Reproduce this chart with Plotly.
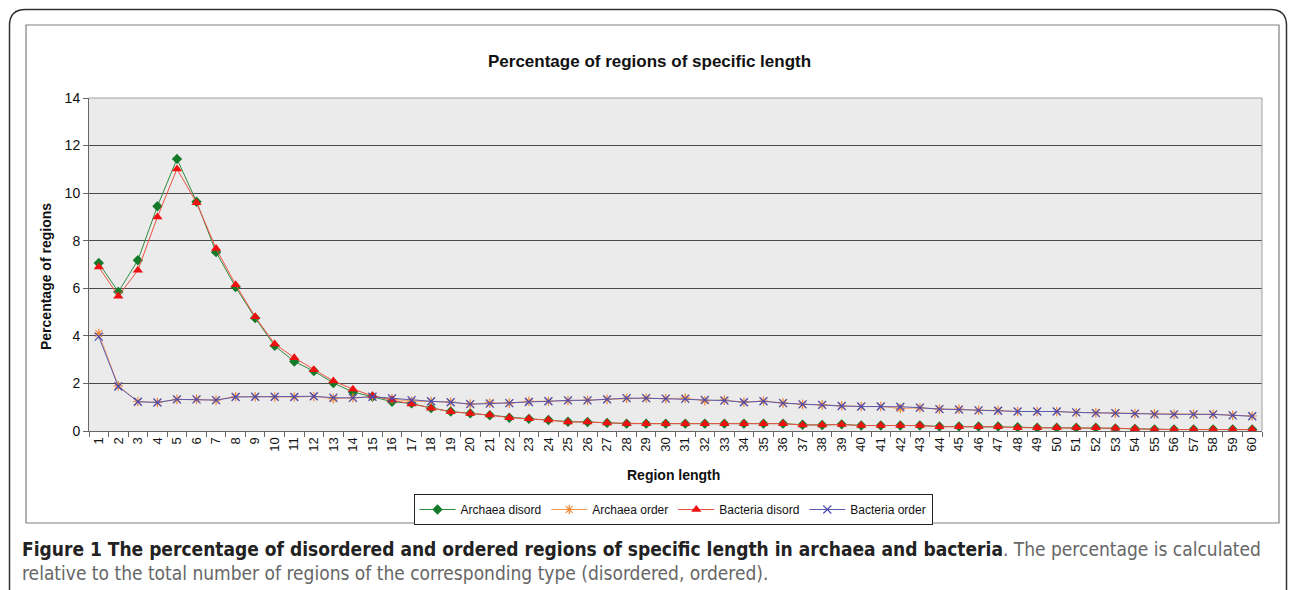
import plotly.graph_objects as go

W, H = 1292, 590

region_length = [str(i) for i in range(1, 61)]

archaea_disord = [7.06, 5.85, 7.18, 9.45, 11.44, 9.64, 7.52, 6.05, 4.75, 3.58,
                  2.92, 2.52, 2.02, 1.64, 1.44, 1.23, 1.16, 0.96, 0.82, 0.74,
                  0.66, 0.56, 0.51, 0.46, 0.39, 0.38, 0.34, 0.31, 0.31, 0.31,
                  0.31, 0.31, 0.31, 0.31, 0.31, 0.31, 0.26, 0.25, 0.28, 0.23,
                  0.23, 0.23, 0.23, 0.19, 0.19, 0.19, 0.19, 0.16, 0.14, 0.14,
                  0.14, 0.14, 0.11, 0.09, 0.06, 0.06, 0.06, 0.06, 0.06, 0.06]

archaea_order = [4.10, 1.90, 1.24, 1.20, 1.33, 1.33, 1.30, 1.45, 1.44, 1.43,
                 1.43, 1.45, 1.36, 1.40, 1.45, 1.35, 1.25, 1.24, 1.21, 1.13,
                 1.18, 1.17, 1.25, 1.25, 1.28, 1.29, 1.33, 1.37, 1.38, 1.36,
                 1.38, 1.27, 1.30, 1.21, 1.26, 1.18, 1.12, 1.10, 1.06, 1.03,
                 1.03, 0.95, 0.97, 0.92, 0.92, 0.87, 0.87, 0.82, 0.82, 0.82,
                 0.78, 0.77, 0.75, 0.73, 0.72, 0.70, 0.70, 0.70, 0.66, 0.63]

bacteria_disord = [6.90, 5.67, 6.76, 9.00, 11.02, 9.60, 7.67, 6.15, 4.80, 3.66,
                   3.08, 2.58, 2.10, 1.76, 1.48, 1.30, 1.13, 0.96, 0.81, 0.74,
                   0.67, 0.56, 0.52, 0.46, 0.38, 0.38, 0.34, 0.31, 0.31, 0.31,
                   0.31, 0.31, 0.31, 0.31, 0.31, 0.31, 0.25, 0.25, 0.27, 0.23,
                   0.23, 0.23, 0.23, 0.18, 0.18, 0.18, 0.18, 0.14, 0.14, 0.14,
                   0.14, 0.14, 0.12, 0.09, 0.06, 0.06, 0.06, 0.06, 0.06, 0.06]

bacteria_order = [3.97, 1.87, 1.23, 1.20, 1.33, 1.33, 1.30, 1.43, 1.44, 1.44,
                  1.43, 1.46, 1.40, 1.39, 1.44, 1.37, 1.30, 1.25, 1.21, 1.13,
                  1.15, 1.17, 1.22, 1.25, 1.29, 1.29, 1.33, 1.38, 1.38, 1.36,
                  1.35, 1.31, 1.28, 1.21, 1.25, 1.17, 1.12, 1.10, 1.05, 1.03,
                  1.03, 1.02, 0.98, 0.92, 0.90, 0.87, 0.85, 0.82, 0.82, 0.82,
                  0.78, 0.75, 0.75, 0.73, 0.70, 0.70, 0.70, 0.70, 0.66, 0.62]

series_names = ["Archaea disord", "Archaea order", "Bacteria disord", "Bacteria order"]

FONT = "Arial, Liberation Sans, sans-serif"
CAP_FONT = "DejaVu Sans Condensed, Liberation Sans Narrow, sans-serif"

def px(x):
    return x / W

def py(y):
    return 1 - y / H

fig = go.Figure()

fig.add_trace(go.Scatter(
    x=region_length, y=archaea_disord, name=series_names[0], mode="lines+markers",
    line=dict(color="#2E8B3E", width=1),
    marker=dict(symbol="diamond", size=8, color="#137A2A")))
fig.add_trace(go.Scatter(
    x=region_length, y=archaea_order, name=series_names[1], mode="lines+markers",
    line=dict(color="#F5A060", width=1),
    marker=dict(symbol="asterisk-open", size=8, color="#F08A3A", line=dict(width=1.2, color="#F08A3A"))))
fig.add_trace(go.Scatter(
    x=region_length, y=bacteria_disord, name=series_names[2], mode="lines+markers",
    line=dict(color="#F05040", width=1),
    marker=dict(symbol="triangle-up", size=9, color="#EE1111")))
fig.add_trace(go.Scatter(
    x=region_length, y=bacteria_order, name=series_names[3], mode="lines+markers",
    line=dict(color="#5A5AB0", width=1),
    marker=dict(symbol="x-thin-open", size=8, color="#4A4AB0", line=dict(width=1.2, color="#4A4AB0"))))

shapes = []
# outer rounded frame
r = 16
x0, y0, x1, y1 = 9.5, 9.5, 1286.5, 620
path = (f"M {px(x0)},{py(y1)} L {px(x0)},{py(y0 + r)} "
        f"Q {px(x0)},{py(y0)} {px(x0 + r)},{py(y0)} "
        f"L {px(x1 - r)},{py(y0)} Q {px(x1)},{py(y0)} {px(x1)},{py(y0 + r)} "
        f"L {px(x1)},{py(y1)}")
shapes.append(dict(type="path", xref="paper", yref="paper", path=path,
                   line=dict(color="#333333", width=1.5)))
# inner chart frame
shapes.append(dict(type="rect", xref="paper", yref="paper",
                   x0=px(26), y0=py(523), x1=px(1279), y1=py(25),
                   line=dict(color="#808080", width=1.2), layer="below"))
# plot-area top and right borders
shapes.append(dict(type="line", xref="paper", yref="paper",
                   x0=px(89), y0=py(98), x1=px(1262), y1=py(98),
                   line=dict(color="#A0A0A0", width=1)))
shapes.append(dict(type="line", xref="paper", yref="paper",
                   x0=px(1262), y0=py(98), x1=px(1262), y1=py(431),
                   line=dict(color="#A0A0A0", width=1)))

annotations = [
    dict(text="<b>Percentage of regions of specific length</b>", x=px(649), y=py(61),
         xref="paper", yref="paper", showarrow=False, xanchor="center", yanchor="middle",
         font=dict(family=FONT, size=17, color="#111111")),
    dict(text="<b>Percentage of regions</b>", x=px(46), y=py(277), textangle=-90,
         xref="paper", yref="paper", showarrow=False, xanchor="center", yanchor="middle",
         font=dict(family=FONT, size=14, color="#111111")),
    dict(text="<b>Region length</b>", x=px(673), y=py(475),
         xref="paper", yref="paper", showarrow=False, xanchor="center", yanchor="middle",
         font=dict(family=FONT, size=14, color="#111111")),
    dict(text="<b>Figure 1 The percentage of disordered and ordered regions of specific length in archaea and bacteria</b>"
              "<span style='color:#666666'>. The percentage is calculated</span>",
         x=px(20), y=py(549), xref="paper", yref="paper", showarrow=False,
         xanchor="left", yanchor="middle",
         font=dict(family=CAP_FONT, size=19, color="#222222")),
    dict(text="relative to the total number of regions of the corresponding type (disordered, ordered).",
         x=px(20), y=py(573), xref="paper", yref="paper", showarrow=False,
         xanchor="left", yanchor="middle",
         font=dict(family=CAP_FONT, size=19, color="#666666")),
]

fig.update_layout(
    width=W, height=H,
    margin=dict(l=0, r=0, t=0, b=0),
    paper_bgcolor="white",
    plot_bgcolor="#EBEBEB",
    font=dict(family=FONT, size=12, color="#111111"),
    shapes=shapes,
    annotations=annotations,
    legend=dict(orientation="h", x=px(673), y=py(494), xanchor="center", yanchor="top",
                bgcolor="white", bordercolor="#222222", borderwidth=1,
                font=dict(family=FONT, size=12, color="#111111"),
                itemwidth=36, tracegroupgap=0),
    xaxis=dict(domain=[px(89), px(1262)], type="category", range=[-0.5, 59.5],
               tickangle=-90, tickson="boundaries", ticks="outside", ticklen=5,
               tickcolor="#666666", tickfont=dict(family=FONT, size=13, color="#111111"),
               showline=True, linecolor="#666666", linewidth=1, showgrid=False,
               automargin=False, fixedrange=True),
    yaxis=dict(domain=[py(431), py(98)], range=[0, 14], dtick=2, ticks="outside",
               ticklen=5, tickcolor="#666666", tickfont=dict(family=FONT, size=14, color="#111111"),
               showline=True, linecolor="#666666", linewidth=1,
               showgrid=True, gridcolor="#4A4A4A", gridwidth=1, zeroline=False,
               automargin=False, fixedrange=True),
    showlegend=True,
)

fig.write_html("out.html", config={"displayModeBar": False},
               post_script="document.body.style.margin='0px';document.body.style.overflow='hidden';")
